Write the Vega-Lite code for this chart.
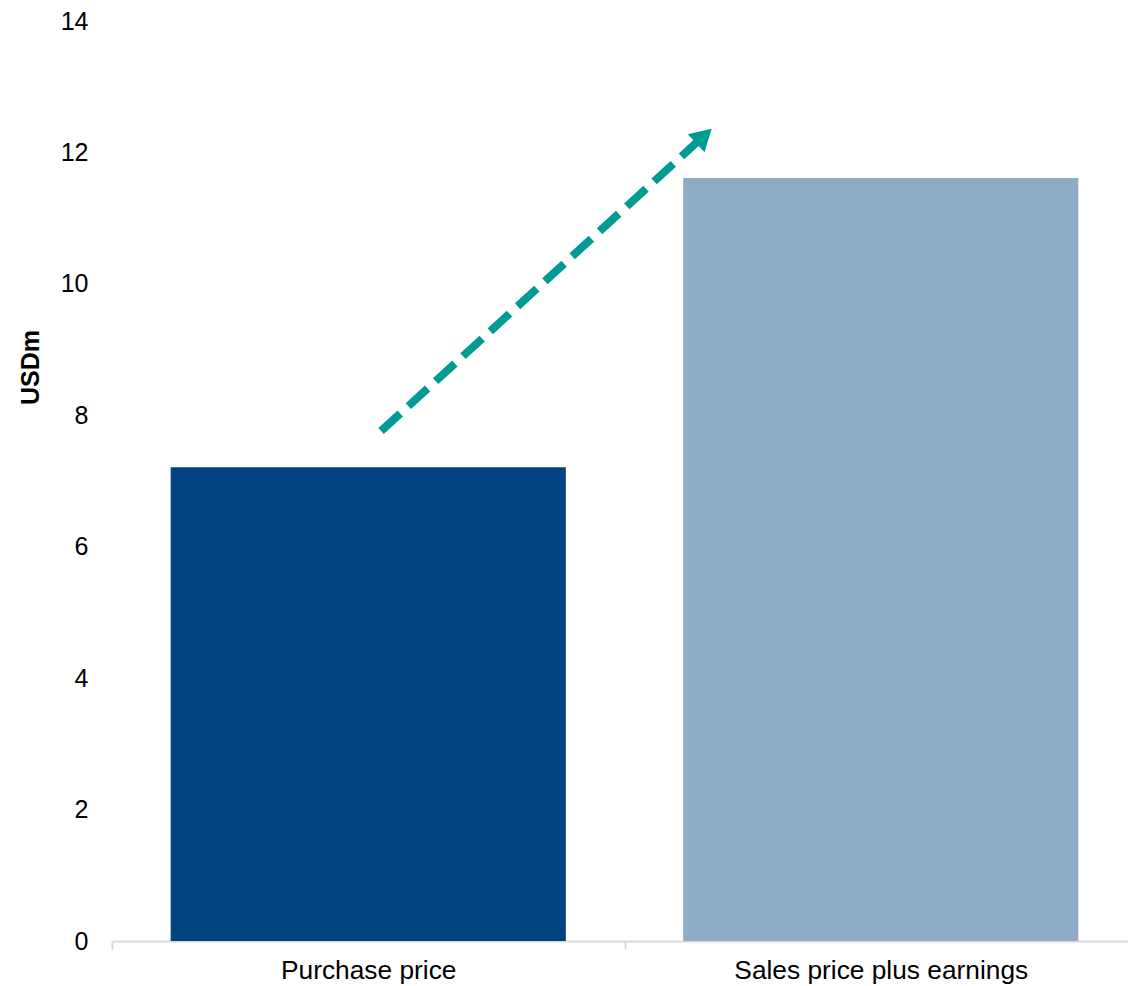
{
  "$schema": "https://vega.github.io/schema/vega-lite/v6.json",
  "autosize": {"type": "none"},
  "width": 1016,
  "height": 920,
  "padding": {"left": 112, "top": 21, "right": 0, "bottom": 45},
  "background": "white",
  "config": {
    "view": {"stroke": null},
    "font": "Liberation Sans",
    "axis": {"labelFont": "Liberation Sans", "titleFont": "Liberation Sans", "labelColor": "#000000", "titleColor": "#000000"}
  },
  "layer": [
    {
      "data": {"values": [
        {"category": "Purchase price", "value": 7.21},
        {"category": "Sales price plus earnings", "value": 11.61}
      ]},
      "mark": {"type": "bar", "width": {"band": 0.771}},
      "encoding": {
        "x": {
          "field": "category", "type": "nominal", "sort": null,
          "scale": {"range": [0, 1025], "paddingInner": 0, "paddingOuter": 0},
          "axis": {
            "title": null, "labelAngle": 0, "tickBand": "extent", "labelLimit": 0,
            "domainColor": "#d9d9d9", "domainWidth": 2, "tickColor": "#d9d9d9", "tickWidth": 2,
            "tickSize": 8, "labelPadding": 8, "labelFontSize": 26.3, "labelColor": "#000000"
          }
        },
        "y": {
          "field": "value", "type": "quantitative",
          "scale": {"domain": [0, 14], "nice": false},
          "axis": {
            "values": [0, 2, 4, 6, 8, 10, 12, 14], "format": "d", "grid": false, "domain": false, "ticks": false,
            "labelPadding": 24, "labelFontSize": 25, "labelColor": "#000000",
            "title": "USDm", "titleFontSize": 25, "titleFontWeight": "bold", "titlePadding": 17, "titleY": 346
          }
        },
        "color": {
          "field": "category", "type": "nominal",
          "scale": {"domain": ["Purchase price", "Sales price plus earnings"], "range": ["#01437f", "#8eacc8"]},
          "legend": null
        }
      }
    },
    {
      "data": {"values": [
        {"ax": 0.525, "ay": 7.76, "o": 0},
        {"ax": 1.1434, "ay": 12.17, "o": 1}
      ]},
      "mark": {"type": "line", "color": "#009b94", "strokeWidth": 8, "strokeDash": [26, 11], "strokeCap": "butt"},
      "encoding": {
        "x": {"field": "ax", "type": "quantitative", "scale": {"domain": [0, 2], "range": [0, 1025], "nice": false, "zero": false}, "axis": null},
        "y": {"field": "ay", "type": "quantitative"},
        "order": {"field": "o"}
      }
    },
    {
      "data": {"values": [
        {"ax": 1.155, "ay": 12.25}
      ]},
      "mark": {"type": "point", "shape": "triangle-up", "filled": true, "color": "#009b94", "opacity": 1, "size": 600, "angle": 47, "strokeWidth": 0},
      "encoding": {
        "x": {"field": "ax", "type": "quantitative", "scale": {"domain": [0, 2], "range": [0, 1025], "nice": false, "zero": false}, "axis": null},
        "y": {"field": "ay", "type": "quantitative"}
      }
    }
  ],
  "resolve": {"scale": {"x": "independent", "color": "independent"}}
}
